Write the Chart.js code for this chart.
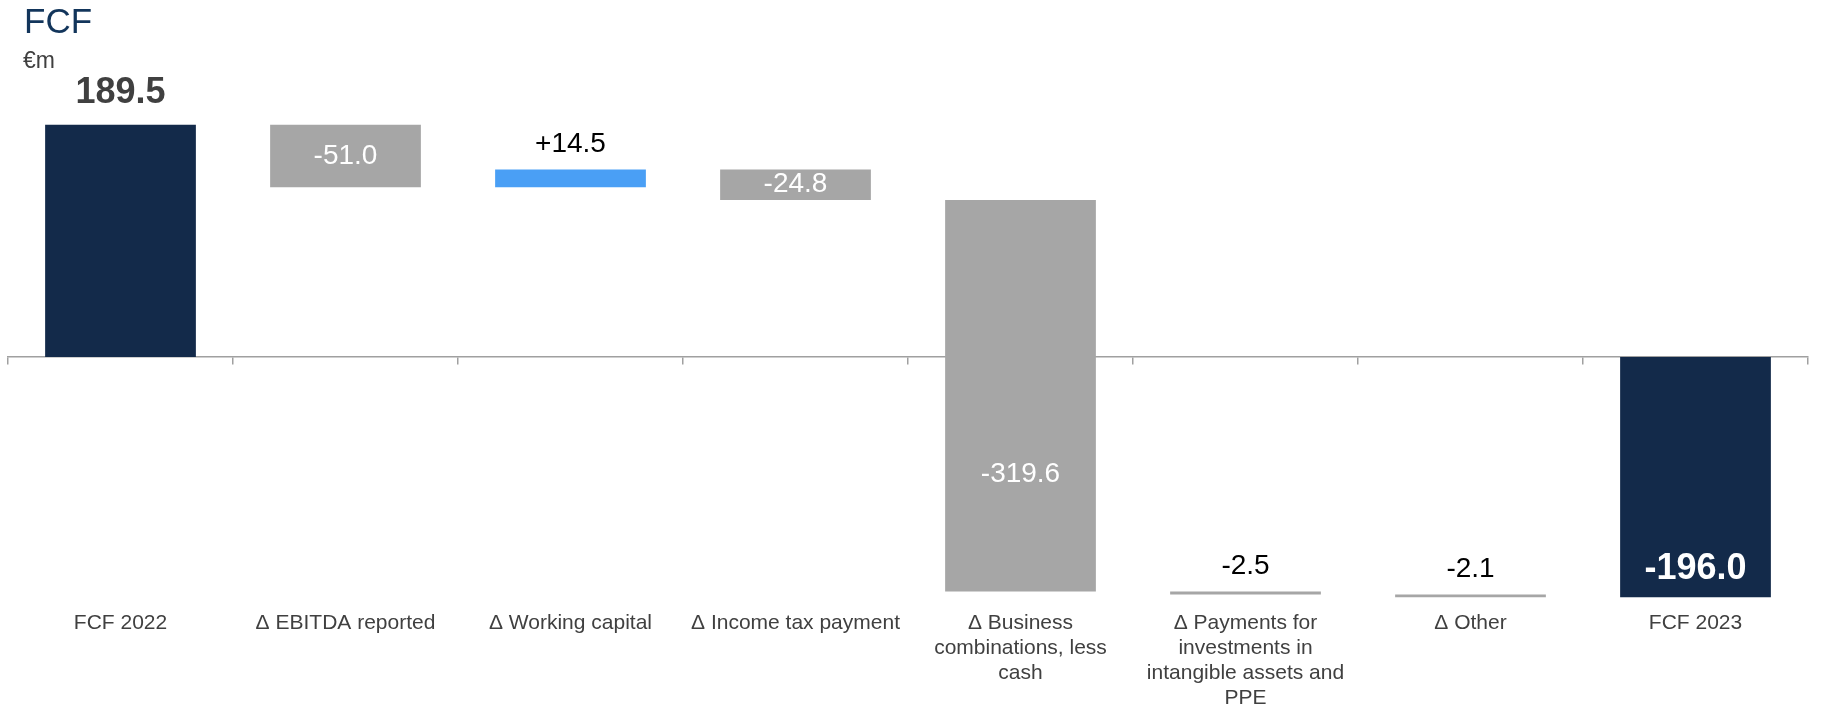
<!DOCTYPE html>
<html>
<head>
<meta charset="utf-8">
<title>FCF</title>
<script src="https://cdn.jsdelivr.net/npm/chart.js@4.4.0/dist/chart.umd.min.js"></script>
<style>
body{margin:0;background:#ffffff;}
#box{position:relative;width:1821px;height:707px;}
</style>
</head>
<body>
<div id="box"><canvas id="graficofcf"></canvas></div>
<script>
//dati del grafico a cascata (valori in milioni di euro)
var categorie=['FCF 2022','\u0394 EBITDA reported','\u0394 Working capital','\u0394 Income tax payment',
    ['\u0394 Business','combinations, less','cash'],
    ['\u0394 Payments for','investments in','intangible assets and','PPE'],
    '\u0394 Other','FCF 2023'];
var valori=[189.5,-51.0,14.5,-24.8,-319.6,-2.5,-2.1,-196.0];
var totali=[true,false,false,false,false,false,false,true];

var font='"Liberation Sans", Arial, sans-serif';
var blu='#132a4a', grigio='#a6a6a6', azzurro='#4a9ff5';

//barre flottanti: i totali partono da zero, le variazioni dal progressivo
var barre=[], colori=[];
var progressivo=0;
for(i=0;i<valori.length;i++){
    if(totali[i]){
        barre.push([0,valori[i]]);
        progressivo=valori[i];
        colori.push(blu);
    }else{
        barre.push([progressivo,progressivo+valori[i]]);
        progressivo+=valori[i];
        colori.push(valori[i]<0?grigio:azzurro);
    }
}

function testoValore(i){
    var t=valori[i].toFixed(1);
    if(!totali[i]&&valori[i]>0) t='+'+t;
    return t;
}

//titolo e unita in alto a sinistra
var titoloPlugin={
    id:'titolo',
    afterDraw:function(chart){
        var ctx=chart.ctx;
        ctx.save();
        ctx.textAlign='left';
        ctx.textBaseline='alphabetic';
        ctx.fillStyle='#12355b';
        ctx.font='35px '+font;
        ctx.fillText('FCF',24,33);
        ctx.fillStyle='#404040';
        ctx.font='23px '+font;
        ctx.fillText('\u20acm',23,68);
        ctx.restore();
    }
};

//etichette dei valori sopra o dentro le barre
var etichettePlugin={
    id:'etichette',
    afterDatasetsDraw:function(chart){
        var ctx=chart.ctx;
        var meta=chart.getDatasetMeta(0);
        var zero=chart.scales.y.getPixelForValue(0);
        ctx.save();
        ctx.textAlign='center';
        ctx.textBaseline='middle';
        for(i=0;i<valori.length;i++){
            var bar=meta.data[i];
            var top=Math.min(bar.y,bar.base), bottom=Math.max(bar.y,bar.base);
            var y;
            if(totali[i]){
                ctx.font='bold 36px '+font;
                if(valori[i]>=0){ctx.fillStyle='#404040'; y=top-32;}
                else{ctx.fillStyle='#ffffff'; y=bottom-28;}
            }else{
                ctx.font='28px '+font;
                if(bottom-top<25){ctx.fillStyle='#000000'; y=top-25;}
                else{
                    ctx.fillStyle='#ffffff';
                    y=(top<zero&&bottom>zero)?(zero+bottom)/2:(top+bottom)/2;
                }
            }
            ctx.fillText(testoValore(i),bar.x,y);
        }
        ctx.restore();
    }
};

var g=document.getElementById('graficofcf').getContext('2d');
new Chart(g,{
    type:'bar',
    data:{
        labels:categorie,
        datasets:[{
            data:barre,
            backgroundColor:colori,
            borderWidth:0,
            barPercentage:0.67,
            categoryPercentage:1,
            xAxisID:'x',
            yAxisID:'y'
        }]
    },
    options:{
        responsive:true,
        maintainAspectRatio:false,
        animation:false,
        layout:{padding:{top:112,left:8,right:13,bottom:-6}},
        plugins:{
            legend:{display:false},
            tooltip:{enabled:false},
            title:{display:false}
        },
        scales:{
            y:{
                min:-205,max:200,
                display:false
            },
            x:{
                position:{y:0},
                grid:{display:true,drawOnChartArea:false,drawTicks:true,tickLength:7,color:'#a0a0a0',lineWidth:1.5,offset:true},
                border:{display:true,color:'#a0a0a0',width:1.5},
                ticks:{display:false}
            },
            x2:{
                type:'category',
                position:'bottom',
                grid:{display:false,drawTicks:false},
                border:{display:false},
                ticks:{
                    autoSkip:false,maxRotation:0,minRotation:0,padding:2,
                    color:'#404040',
                    font:{family:font,size:21,lineHeight:1.2}
                }
            }
        }
    },
    plugins:[titoloPlugin,etichettePlugin]
});
</script>
</body>
</html>
